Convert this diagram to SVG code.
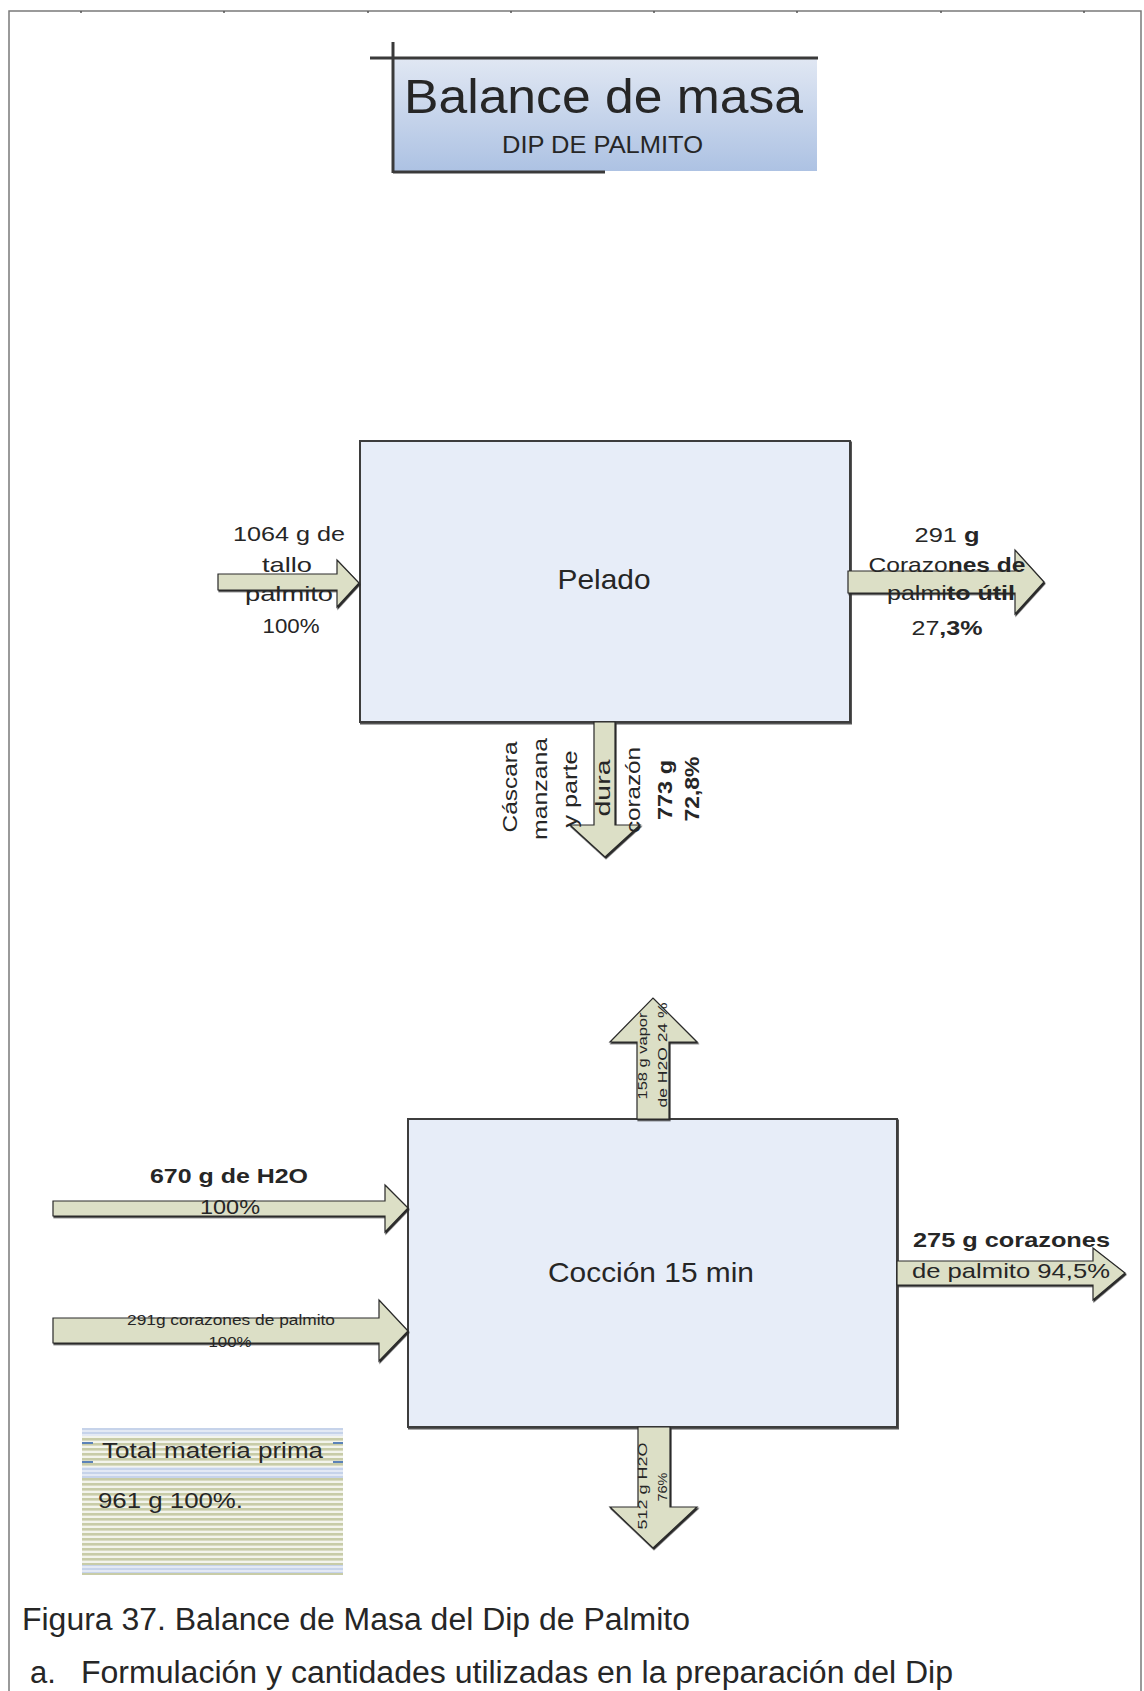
<svg xmlns="http://www.w3.org/2000/svg" xmlns:xlink="http://www.w3.org/1999/xlink" width="1144" height="1691" viewBox="0 0 1144 1691">
  <style>
    .t { font-family: "Liberation Sans", Arial, sans-serif; fill: #262626; }
    .b { font-weight: bold; }
    .box { fill: #e7edf8; stroke: #3c3c3c; stroke-width: 2; }
    .arrow { fill: #dcdfc6; stroke: #2a2a2a; stroke-width: 1.2; stroke-linejoin: miter; filter: url(#shadow); }
    .frame { stroke: #7a7a7a; stroke-width: 1.5; fill: none; }
    .bar { stroke: #3a3a3a; stroke-width: 3; }
  </style>
  <defs>
    <linearGradient id="titleFill" x1="0" y1="0" x2="0" y2="1">
      <stop offset="0" stop-color="#e0e7f3"/>
      <stop offset="1" stop-color="#adc2e3"/>
    </linearGradient>
    <filter id="shadow" x="-10%" y="-10%" width="130%" height="130%">
      <feDropShadow dx="1" dy="1.5" stdDeviation="0" flood-color="#2b2b2b"/>
    </filter>
    <filter id="boxShadow" x="-5%" y="-5%" width="110%" height="110%">
      <feDropShadow dx="1" dy="1.5" stdDeviation="0" flood-color="#555"/>
    </filter>
    <pattern id="stripes" x="0" y="1428" width="10" height="5" patternUnits="userSpaceOnUse">
      <rect width="10" height="5" fill="#f3f4ec"/>
      <rect width="10" height="2.6" fill="#c8cca8"/>
    </pattern>
    <pattern id="blueStripes" x="0" y="1428" width="10" height="4" patternUnits="userSpaceOnUse">
      <rect width="10" height="4" fill="#e3e9f4"/>
      <rect width="10" height="2" fill="#c6d3ea"/>
    </pattern>
  </defs>

  <rect width="1144" height="1691" fill="#ffffff"/>

  <!-- page frame -->
  <g id="frame">
    <path class="frame" d="M9,1691 V11 H1141 V1691"/>
    <path stroke="#555" stroke-width="1.5" d="M81,11 v2 M224,11 v2 M368,11 v2 M511,11 v2 M654,11 v2 M797,11 v2 M941,11 v2 M1084,11 v2"/>
  </g>

  <!-- heading -->
  <g id="title">
    <rect x="394" y="59" width="423" height="112" fill="url(#titleFill)"/>
    <line class="bar" x1="370" y1="58" x2="818" y2="58"/>
    <line class="bar" x1="393" y1="42" x2="393" y2="173"/>
    <line class="bar" x1="393" y1="172" x2="605" y2="172"/>
    <text class="t" x="404" y="113" font-size="48" textLength="399" lengthAdjust="spacingAndGlyphs" fill="#111">Balance de masa</text>
    <text class="t" x="502" y="153" font-size="24" textLength="201" lengthAdjust="spacingAndGlyphs">DIP DE PALMITO</text>
  </g>

  <!-- process steps -->
  <g id="pelado">
    <rect class="box" x="360" y="441" width="490" height="281" filter="url(#boxShadow)"/>
    <text class="t" x="604" y="589" font-size="28" text-anchor="middle" textLength="93" lengthAdjust="spacingAndGlyphs">Pelado</text>
  </g>

  <g id="coccion">
    <rect class="box" x="408" y="1119" width="489" height="308" filter="url(#boxShadow)"/>
    <text class="t" x="651" y="1282" font-size="28" text-anchor="middle" textLength="206" lengthAdjust="spacingAndGlyphs">Cocción 15 min</text>
  </g>

  <g id="total">
    <rect x="82" y="1428" width="261" height="147" fill="url(#stripes)"/>
    <rect x="82" y="1428" width="261" height="8" fill="url(#blueStripes)"/>
    <rect x="82" y="1467" width="261" height="11" fill="url(#blueStripes)"/>
    <rect x="82" y="1565" width="261" height="8" fill="url(#blueStripes)"/>
    <path stroke="#5b82b8" stroke-width="2" d="M82,1443 h11 M82,1462 h11 M333,1443 h10 M333,1462 h10"/>
    <text class="t" x="102" y="1458" font-size="22" textLength="221" lengthAdjust="spacingAndGlyphs">Total materia prima</text>
    <text class="t" x="98" y="1508" font-size="22" textLength="145" lengthAdjust="spacingAndGlyphs">961 g 100%.</text>
  </g>

  <!-- material flows -->
  <g id="connectors">
    <!-- into Pelado -->
    <polygon class="arrow" points="218,574 337,574 337,560 359,583 337,607 337,590 218,590"/>
    <!-- out of Pelado -->
    <polygon class="arrow" points="848,571 1015,571 1015,550 1044,582 1015,614 1015,593 848,593"/>
    <!-- Pelado waste -->
    <polygon class="arrow" points="594,722 615,722 615,825 640,825 605,857 570,825 594,825"/>
    <!-- steam -->
    <polygon class="arrow" points="637,1119 637,1042 610,1042 653,998 697,1042 669,1042 669,1119"/>
    <!-- water in -->
    <polygon class="arrow" points="53,1201 385,1201 385,1185 408,1208 385,1232 385,1216 53,1216"/>
    <!-- hearts in -->
    <polygon class="arrow" points="53,1318 379,1318 379,1300 408,1331 379,1361 379,1343 53,1343"/>
    <!-- product out -->
    <polygon class="arrow" points="897,1261 1093,1261 1093,1248 1125,1273 1093,1300 1093,1285 897,1285"/>
    <!-- drained water -->
    <polygon class="arrow" points="638,1427 670,1427 670,1507 697,1507 653,1548 610,1507 638,1507"/>

    <!-- labels: into Pelado -->
    <g class="t" font-size="21" text-anchor="middle">
      <text x="289" y="541" textLength="112" lengthAdjust="spacingAndGlyphs">1064 g de</text>
      <text x="287" y="572" textLength="50" lengthAdjust="spacingAndGlyphs">tallo</text>
      <text x="289" y="601" textLength="88" lengthAdjust="spacingAndGlyphs">palmito</text>
      <text x="291" y="633" textLength="57" lengthAdjust="spacingAndGlyphs">100%</text>
    </g>
    <!-- labels: out of Pelado -->
    <g class="t" font-size="21" text-anchor="middle">
      <text x="947" y="542" textLength="65" lengthAdjust="spacingAndGlyphs">291 <tspan class="b">g</tspan></text>
      <text x="947" y="572" textLength="157" lengthAdjust="spacingAndGlyphs">Corazo<tspan class="b">nes de</tspan></text>
      <text x="951" y="600" textLength="128" lengthAdjust="spacingAndGlyphs">palmi<tspan class="b">to útil</tspan></text>
      <text x="947" y="635" textLength="71" lengthAdjust="spacingAndGlyphs">27<tspan class="b">,3%</tspan></text>
    </g>
    <!-- labels: Pelado waste -->
    <g class="t" font-size="20" text-anchor="middle">
      <text transform="translate(517,787) rotate(-90)" textLength="91" lengthAdjust="spacingAndGlyphs">Cáscara</text>
      <text transform="translate(547,789) rotate(-90)" textLength="102" lengthAdjust="spacingAndGlyphs">manzana</text>
      <text transform="translate(577,789) rotate(-90)" textLength="77" lengthAdjust="spacingAndGlyphs">y parte</text>
      <text transform="translate(610,788) rotate(-90)" textLength="57" lengthAdjust="spacingAndGlyphs">dura</text>
      <text transform="translate(640,790) rotate(-90)" textLength="86" lengthAdjust="spacingAndGlyphs">corazón</text>
      <text class="b" transform="translate(672,790) rotate(-90)" textLength="60" lengthAdjust="spacingAndGlyphs">773 g</text>
      <text class="b" transform="translate(699,789) rotate(-90)" textLength="65" lengthAdjust="spacingAndGlyphs">72,8%</text>
    </g>
    <!-- labels: steam -->
    <g class="t" font-size="13" text-anchor="middle">
      <text transform="translate(647,1056) rotate(-90)" textLength="87" lengthAdjust="spacingAndGlyphs">158 g vapor</text>
      <text transform="translate(667,1055) rotate(-90)" textLength="105" lengthAdjust="spacingAndGlyphs">de H2O 24 %</text>
    </g>
    <!-- labels: water in -->
    <text class="t b" x="229" y="1183" font-size="21" text-anchor="middle" textLength="158" lengthAdjust="spacingAndGlyphs">670 g de H2O</text>
    <text class="t" x="230" y="1214" font-size="21" text-anchor="middle" textLength="60" lengthAdjust="spacingAndGlyphs">100%</text>
    <!-- labels: hearts in -->
    <text class="t" x="231" y="1325" font-size="14" text-anchor="middle" textLength="208" lengthAdjust="spacingAndGlyphs">291g corazones de palmito</text>
    <text class="t" x="230" y="1347" font-size="14" text-anchor="middle" textLength="43" lengthAdjust="spacingAndGlyphs">100%</text>
    <!-- labels: product out -->
    <text class="t" x="913" y="1247" font-size="21" textLength="197" lengthAdjust="spacingAndGlyphs"><tspan class="b">275 g  corazones</tspan></text>
    <text class="t" x="912" y="1278" font-size="21" textLength="198" lengthAdjust="spacingAndGlyphs">de palmito 94,5%</text>
    <!-- labels: drained water -->
    <g class="t" font-size="13" text-anchor="middle">
      <text transform="translate(647,1486) rotate(-90)" textLength="87" lengthAdjust="spacingAndGlyphs">512 g H2O</text>
      <text transform="translate(667,1487) rotate(-90)" textLength="29" lengthAdjust="spacingAndGlyphs">76%</text>
    </g>
  </g>

  <!-- caption -->
  <g id="caption">
    <text class="t" x="22" y="1630" font-size="31" textLength="668" lengthAdjust="spacingAndGlyphs">Figura 37. Balance de Masa del Dip de Palmito</text>
    <text class="t" x="30" y="1683" font-size="31">a.</text>
    <text class="t" x="81" y="1683" font-size="31" textLength="872" lengthAdjust="spacingAndGlyphs">Formulación y cantidades utilizadas en la preparación del Dip</text>
  </g>
</svg>
